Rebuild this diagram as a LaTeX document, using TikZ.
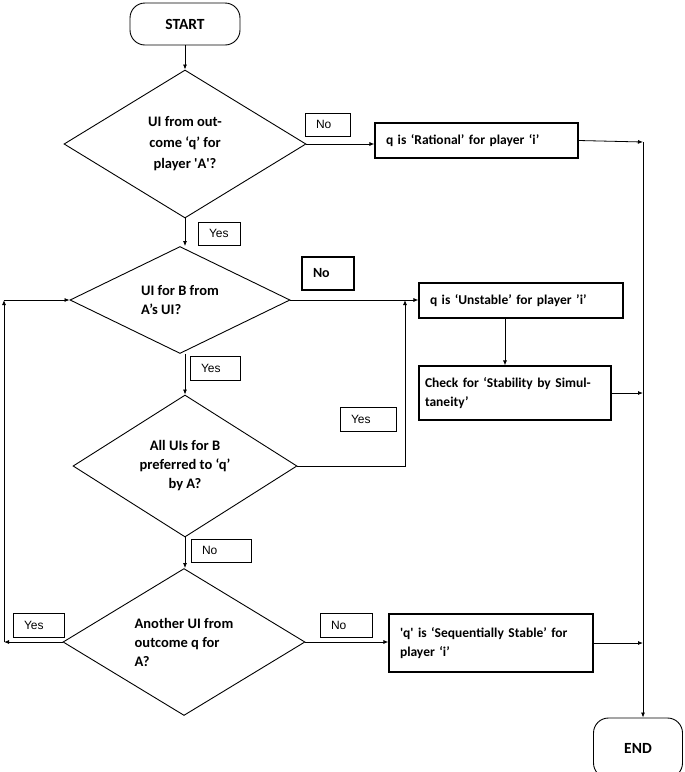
\documentclass[tikz,border=0pt]{standalone}
\usepackage{fontspec}
\setmainfont{Carlito}
\newfontfamily\arialfont{Liberation Sans}
\usetikzlibrary{shapes.geometric}
\usetikzlibrary{arrows.meta}
\tikzstyle{terminal}=[draw, rectangle, rounded corners=15pt, line width=0.9pt, font=\fontsize{15.5}{19}\selectfont\bfseries]
\tikzstyle{decision}=[draw, diamond, inner sep=0pt, line width=0.9pt, font=\fontsize{14.5}{19}\selectfont\bfseries]
\tikzstyle{process}=[draw, rectangle, line width=1.1pt, inner xsep=11pt, align=left, font=\fontsize{13.5}{19}\selectfont\bfseries]
\tikzstyle{answer}=[draw, rectangle, line width=0.8pt, inner xsep=11pt, inner ysep=0pt, align=left, font=\arialfont\fontsize{12}{14}\selectfont]
\tikzstyle{flow}=[line width=0.8pt, -{Latex[length=5pt,width=4pt]}]

\begin{document}
\begin{tikzpicture}[x=1pt, y=-1pt]
          \useasboundingbox (0,0) rectangle (685,772);
          % terminals
          \node[terminal, minimum width=110pt, minimum height=42pt] (start) at (185,24) {START};
          \node[terminal, minimum width=89pt, minimum height=60pt] (stop) at (638,748) {END};
          % decisions
          \node[decision, minimum width=242pt, minimum height=148pt, align=center] (qa) at (185,144)
            {UI from out-\\[2pt]come ‘q’ for\\[2pt]player \textquotesingle A\textquotesingle ?};
          \node[decision, minimum width=220pt, minimum height=99pt, align=left] (bui) at (180,300)
            {UI for B from\\A’s UI?};
          \node[decision, minimum width=224pt, minimum height=142pt, align=center] (allb) at (185,466)
            {All UIs for B\\preferred to ‘q’\\by A?};
          \node[decision, minimum width=242pt, minimum height=139pt, align=left] (another) at (184,642)
            {Another UI from\\outcome q for\\A?};
          % outcomes
          \node[process, text width=181pt, minimum height=35pt] (rational) at (476.5,140.5)
            {q is ‘Rational’ for player ‘i’};
          \node[process, text width=182pt, minimum height=35pt] (unstable) at (521,300.5)
            {q is ‘Unstable’ for player ’i’};
          \node[process, text width=180pt, inner xsep=6pt, minimum height=54pt] (check) at (515,393)
            {Check for ‘Stability by Simul-\\taneity’};
          \node[process, text width=182pt, minimum height=58pt] (seqstable) at (491,643)
            {\textquotesingle q\textquotesingle\ is ‘Sequentially Stable’ for\\player ‘i’};
          % answers
          \node[answer, text width=23pt, minimum height=23pt] (no1) at (327.5,124.5) {No};
          \node[answer, text width=20pt, minimum height=23pt] (yes1) at (219,233.5) {Yes};
          \node[answer, text width=30pt, minimum height=33pt, line width=1.3pt, font=\fontsize{14}{15}\selectfont\bfseries] (no2) at (328,273.5) {No};
          \node[answer, text width=28pt, minimum height=24pt] (yes2) at (215,368) {Yes};
          \node[answer, text width=34pt, minimum height=24pt] (yes3) at (368,419) {Yes};
          \node[answer, text width=38pt, minimum height=23pt] (no3) at (221,550.5) {No};
          \node[answer, text width=29pt, minimum height=24pt] (yes4) at (38.5,625) {Yes};
          \node[answer, text width=30pt, minimum height=24pt] (no4) at (346,625) {No};
          % bends
          \coordinate (merge) at (643,142);
          \coordinate (back) at (405,300);
          \coordinate (loopbot) at (4,642);
          \coordinate (looptop) at (4,300);
          % main line
          \draw[flow] (start) -- (qa);
          \draw[flow] (qa) -- (bui.north -| qa.south);
          \draw[flow] (bui.south -| qa.south) -- (allb);
          \draw[flow] (allb) -- (another.north -| allb.south);
          % right side
          \draw[flow] (qa.east) -- (qa.east -| rational.west);
          \draw[flow] (bui.east) -- (bui.east -| unstable.west);
          \draw[flow] (another.east) -- (another.east -| seqstable.west);
          \draw[flow] ([xshift=-10pt]check.north |- unstable.south) -- ([xshift=-10pt]check.north);
          \draw[flow] (allb.east) -| (back);
          \draw[flow] (rational.east) -- (merge);
          \draw[flow] (check.east) -- (check.east -| merge);
          \draw[flow] (seqstable.east) -- (seqstable.east -| merge);
          \draw[flow] (merge) -- (merge |- stop.north);
          % loop back
          \draw[flow] (another.west) -- (loopbot);
          \draw[flow] (loopbot) -- (looptop);
          \draw[flow] (looptop) -- (bui.west);
        \end{tikzpicture}
\end{document}
